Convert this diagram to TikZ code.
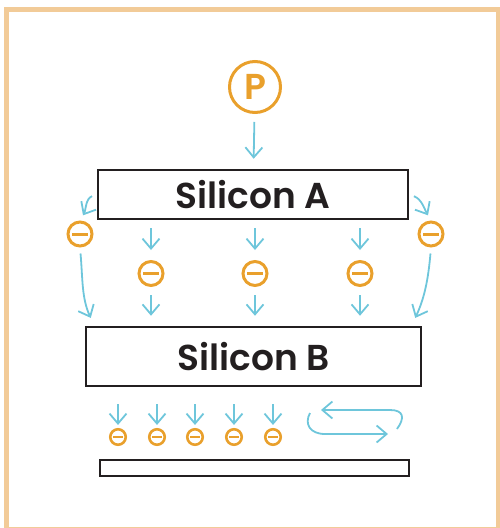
\documentclass[tikz,border=0pt]{standalone}
\usepackage{fontspec}
\setmainfont{Poppins}[BoldFont={Poppins SemiBold}]
\usepackage{tikz}
\usetikzlibrary{arrows.meta, positioning, calc}
\usepackage{xcolor}
\definecolor{frame}{HTML}{F2CB98}
\definecolor{charge}{HTML}{E9A02C}
\definecolor{flowc}{HTML}{6EC6DB}
\definecolor{ink}{HTML}{231F20}
\tikzset{
  wafer/.style={rectangle, draw=ink, line width=2.5pt, fill=white,
                inner sep=0pt, font=\fontsize{36}{36}\selectfont\bfseries,
                text=ink},
  proton/.style={circle, draw=charge, line width=3pt, minimum size=51pt,
                 inner sep=0pt, text=charge,
                 font=\fontsize{36}{36}\selectfont\bfseries},
  elec/.style={circle, draw=charge, line width=3pt, minimum size=24pt,
               inner sep=0pt, text=charge},
  elecS/.style={elec, line width=2.6pt, minimum size=15.5pt},
  flow/.style={-{Straight Barb[length=10pt, width=17pt]}, draw=flowc,
               line width=1.8pt, shorten <=8pt, shorten >=10pt},
}

\begin{document}
\begin{tikzpicture}[x=1pt, y=-1pt]

  \useasboundingbox (0,0) rectangle (500,528);

  %% Outer frame
  \draw[frame, line width=5pt] (6.5,9.5) rectangle (498,529);

  %% Wafers
  \node[wafer, minimum width=310pt, minimum height=49pt]
    (siA) at (253,194.5) {Silicon A};
  \node[wafer, minimum width=335pt, minimum height=59pt]
    (siB) at (253.5,356.5) {Silicon B};
  \node[wafer, minimum width=309pt, minimum height=16pt]
    (base) at (254.5,468) {};

  %% Proton
  \node[proton] (p) at (255,87) {P};
  \draw[flow] (p) -- (siA);

  %% Electrons between the wafers
  \node[elec] (e1) at (80,234)  {\rule{16pt}{3pt}};
  \node[elec] (e5) at (431,234) {\rule{16pt}{3pt}};
  \foreach \n/\x in {e2/151, e3/255, e4/360}{
    \node[elec] (\n) at (\x,273.5) {\rule{16pt}{3pt}};
    \draw[flow] (\n |- siA.south) -- (\n);
    \draw[flow] (\n) -- (\n |- siB.north);
  }

  %% Curved paths round the sides
  \coordinate (bl) at (95,327);
  \coordinate (br) at (411,327);
  \draw[flow, shorten <=5pt, shorten >=6pt]
    (siA.west) to[out=200, in=60] (e1.north);
  \draw[flow, shorten <=5pt, shorten >=6pt]
    (siA.east) to[out=-20, in=120] (e5.north);
  \draw[flow, shorten <=6pt, shorten >=10pt]
    (e1.south) to[out=-85, in=115] (bl);
  \draw[flow, shorten <=6pt, shorten >=10pt]
    (e5.south) to[out=-95, in=65] (br);

  %% Electrons below Silicon B
  \foreach \n/\x in {b1/118, b2/157, b3/195, b4/234, b5/273}{
    \node[elecS] (\n) at (\x,437) {\rule{10pt}{2.5pt}};
    \draw[flow, shorten <=17pt, shorten >=3pt] (\n |- siB.south) -- (\n);
  }

  %% Back and forth
  \coordinate (la) at (397,429);
  \coordinate (lb) at (321,410);
  \coordinate (lc) at (310,413);
  \coordinate (ld) at (388,434);
  \draw[flow, shorten <=0pt, shorten >=0pt]
    (la) .. controls (405,418) and (404,410) .. (390,410) -- (lb);
  \draw[flow, shorten <=0pt, shorten >=0pt]
    (lc) .. controls (304,424) and (310,434) .. (325,434) -- (ld);

\end{tikzpicture}
\end{document}
